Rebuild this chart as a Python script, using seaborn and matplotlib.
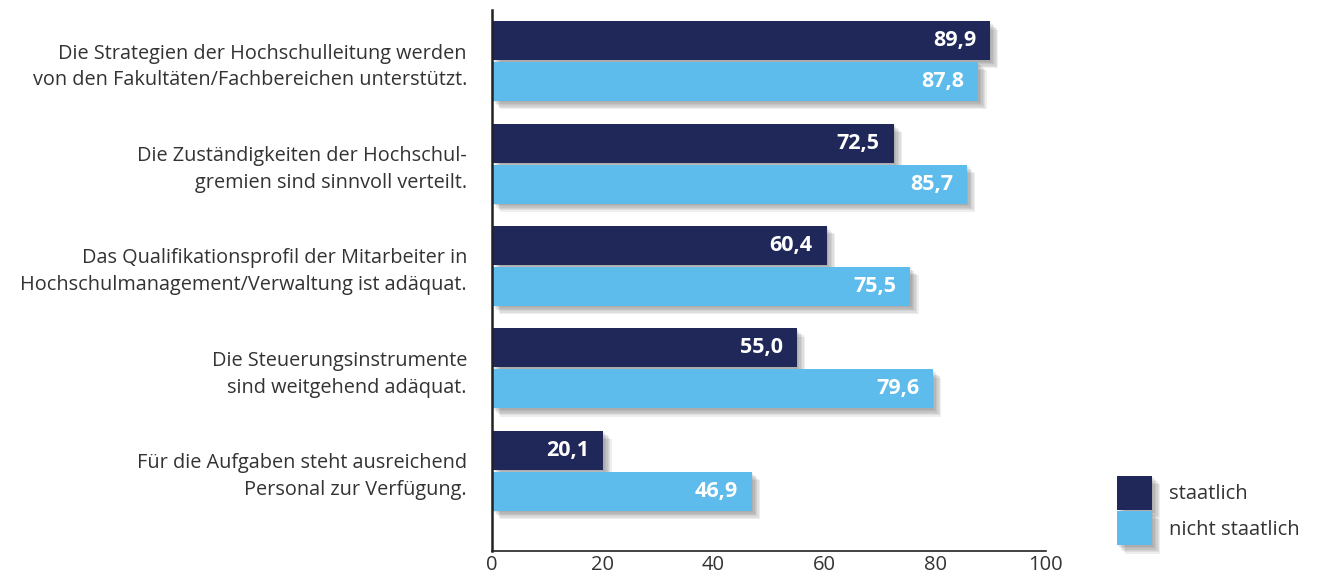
import pandas as pd
import numpy as np
import seaborn as sns
import matplotlib.pyplot as plt
import matplotlib.patheffects as pe
from matplotlib.patches import Patch

categories = [
    "Die Strategien der Hochschulleitung werden\nvon den Fakultäten/Fachbereichen unterstützt.",
    "Die Zuständigkeiten der Hochschul-\ngremien sind sinnvoll verteilt.",
    "Das Qualifikationsprofil der Mitarbeiter in\nHochschulmanagement/Verwaltung ist adäquat.",
    "Die Steuerungsinstrumente\nsind weitgehend adäquat.",
    "Für die Aufgaben steht ausreichend\nPersonal zur Verfügung.",
]
groups = ["staatlich", "nicht staatlich"]
staatlich = [89.9, 72.5, 60.4, 55.0, 20.1]
nicht_staatlich = [87.8, 85.7, 75.5, 79.6, 46.9]
x_ticks = [0, 20, 40, 60, 80, 100]

colors = {"staatlich": "#1F2859", "nicht staatlich": "#5DBCEB"}

df = pd.DataFrame({
    "Aussage": categories * 2,
    "Träger": ["staatlich"] * 5 + ["nicht staatlich"] * 5,
    "Wert": staatlich + nicht_staatlich,
})

sns.set_style("white")
plt.rcParams["font.family"] = ["Open Sans", "DejaVu Sans"]

fig = plt.figure(figsize=(13.19, 5.84), dpi=100)
ax = fig.add_axes([0.373, 0.057, 0.42, 0.926])

sns.barplot(data=df, y="Aussage", x="Wert", hue="Träger", hue_order=groups,
            palette=colors, orient="h", width=0.8, gap=0.05, saturation=1,
            linewidth=0, legend=False, ax=ax)

# weicher Schatten: mehrere halbtransparente Versätze übereinander
shadow = [pe.SimplePatchShadow(offset=(o, -o), shadow_rgbFace="#444444", alpha=0.09)
          for o in (1, 2, 3, 4, 5, 6)] + [pe.Normal()]
for bar in ax.patches:
    bar.set_path_effects(shadow)

# Werte in die Balken schreiben
for cont in ax.containers:
    labels = [f"{v:.1f}".replace(".", ",") for v in cont.datavalues]
    ax.bar_label(cont, labels=labels, padding=-10, color="white",
                 fontweight="bold", fontsize=15.5)
for t in ax.texts:
    t.set_ha("right")

ax.set_xlim(0, 100)
ax.set_ylim(4.78, -0.5)
ax.set_xticks(x_ticks)
ax.set_xticklabels([str(t) for t in x_ticks], fontsize=14.5, color="#333333")
ax.tick_params(axis="x", direction="in", length=6, width=1, colors="#222222",
               labelcolor="#333333", pad=3)
ax.tick_params(axis="y", length=0, pad=18, labelsize=14.3, labelcolor="#333333")
for lab in ax.get_yticklabels():
    lab.set_multialignment("right")
    lab.set_linespacing(1.45)
ax.set_xlabel("")
ax.set_ylabel("")
sns.despine(ax=ax, top=True, right=True)
ax.spines["left"].set_linewidth(1.8)
ax.spines["left"].set_color("#222222")
ax.spines["bottom"].set_linewidth(1.2)
ax.spines["bottom"].set_color("#222222")

handles = [Patch(facecolor=colors[g], edgecolor="none", label=g) for g in groups]
leg = fig.legend(handles=handles, loc="lower left", bbox_to_anchor=(0.833, 0.035),
                 frameon=False, fontsize=14.5, handlelength=1.75, handleheight=2.25,
                 labelspacing=0.05, handletextpad=0.85, labelcolor="#333333")
for h in leg.legend_handles:
    h.set_path_effects(shadow)

fig.savefig("out.png", dpi=100, facecolor="white")
